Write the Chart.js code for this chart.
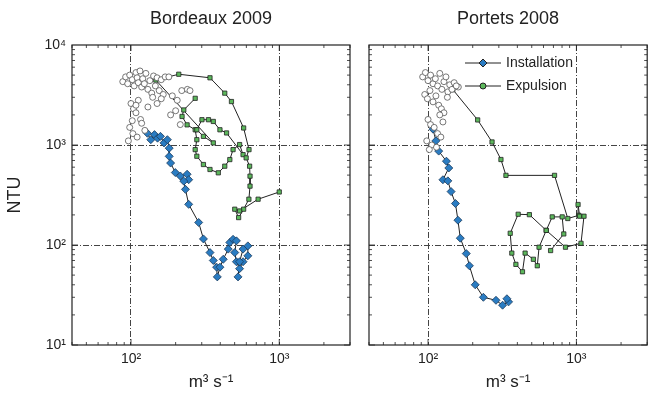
<!DOCTYPE html><html><head><script src="https://cdn.jsdelivr.net/npm/chart.js@4"></script>
<style>body{margin:0;background:#fff;width:652px;height:403px;position:relative;overflow:hidden}
#a{position:absolute;left:0;top:0;width:355px;height:403px}#b{position:absolute;left:355px;top:0;width:297px;height:403px}</style></head><body>
<div id="a"><canvas id="c1"></canvas></div><div id="b"><canvas id="c2"></canvas></div>
<script>
const panelTitles=["Bordeaux 2009","Portets 2008"];
const seriesNames=["Installation","Expulsion"];
const xTicks=[100,1000];
const yTicks=[10,100,1000,10000];
// Bordeaux 2009
const bInstQ=[129,136,144,151,158,167,176,181,181,185,199,215,239,245,227,233,245,286,308,341,359,378,382,398,419,453,464,488,514,501,514,540,570,614,614,570,540,527];
const bInstN=[1310,1130,1270,1170,1220,1050,1130,930,770,660,530,490,510,450,435,360,255,168,115,84,70,60,48,60,72,91,106,114,110,84,68,58,68,78,98,91,68,48];
const bExpQ=[271,227,221,239,271,278,271,278,308,341,388,429,464,488,540,570,441,398,359,333,301,278,308,359,147,210,341,429,476,575,625,598,631,635,635,624,575,532,501,540,720,1000];
const bExpN=[2930,2240,1930,1590,1420,1130,899,772,638,569,527,614,715,899,1010,801,1320,1420,1720,1790,1790,1420,1220,1050,4460,5100,4700,3300,2720,1480,899,743,614,488,388,287,228,188,228,219,287,339];
const bOpenQ=[88,92,95,98,102,105,108,110,112,115,118,120,123,126,130,134,138,142,146,150,155,160,165,170,100,104,108,112,116,98,103,110,118,124,96,102,108,190,205,220,240,200,215,250,180,140,150,160,130,185];
const bOpenN=[4300,4800,4100,5000,4500,3900,5300,4700,4200,5500,3800,4600,4100,5200,3600,4400,3300,4900,3900,4700,3500,4500,3200,4800,2600,2300,2100,2800,1800,1500,1300,1200,1650,1400,1100,1750,2500,3100,2800,3500,3600,2200,1600,3500,4800,3000,2600,2900,2400,2000];
// Portets 2008
const pInstQ=[108,113,118,133,138,126,136,143,153,159,165,181,190,208,236,287,318,349,340];
const pInstN=[1440,1100,869,689,589,449,438,342,260,177,117,82,62,40,30,28,25,27,29];
const pExpQ=[147,216,270,310,335,712,875,1037,1026,1052,1125,1074,844,626,560,545,513,451,433,391,367,358,405,482,626,687,802,822,670];
const pExpN=[3580,1780,1072,716,497,497,184,198,254,194,194,104,95,140,95,62,72,83,54,64,83,131,203,201,140,191,191,129,88];
const pOpenQ=[92,96,100,104,108,112,116,120,124,128,132,136,140,150,160,95,99,103,108,113,118,123,128,100,104,110,116,122,98,106,114,120,126,102,145,155,135];
const pOpenN=[4800,5300,4400,5000,4100,4600,3900,5200,3600,4300,4800,3400,4000,4200,3800,3200,2900,3500,2700,3100,2500,2300,2100,1800,1600,1500,1300,1200,1100,1000,950,2000,1700,900,3600,3900,3000];

const tickTxt={10:"10¹",100:"10²",1000:"10³",10000:"10⁴"};
const F="'Liberation Sans', Arial, sans-serif";
function pts(q,n){return q.map((v,i)=>({x:v,y:n[i]}));}
function mk(c,title,inst,exp,open,left){
 const frame={id:'f',afterDraw(ch){const a=ch.chartArea,x=ch.ctx;x.save();x.strokeStyle='#222';x.lineWidth=1.2;x.strokeRect(a.left,a.top,a.right-a.left,a.bottom-a.top);
  x.lineWidth=0.8;const sx=ch.scales.x,sy=ch.scales.y;
  for(let d=10;d<=1000;d*=10)for(let m=1;m<10;m++){const v=d*m;if(v<sx.min||v>sx.max)continue;const px=sx.getPixelForValue(v);const L=m==1?6:3;x.beginPath();x.moveTo(px,a.bottom);x.lineTo(px,a.bottom-L);x.moveTo(px,a.top);x.lineTo(px,a.top+L);x.stroke();}
  for(let d=10;d<=1000;d*=10)for(let m=1;m<10;m++){const v=d*m;const py=sy.getPixelForValue(v);const L=m==1?6:3;x.beginPath();x.moveTo(a.left,py);x.lineTo(a.left+L,py);x.moveTo(a.right,py);x.lineTo(a.right-L,py);x.stroke();}
  x.fillStyle='#222';x.font='18px '+F;x.textAlign='center';x.fillText(title,(a.left+a.right)/2,24);
  if(!left){x.font='14px '+F;x.textAlign='left';x.textBaseline='middle';
   [[seriesNames[0],63,'diamond'],[seriesNames[1],86,'circle']].forEach(([t,y,s])=>{x.strokeStyle='#222';x.lineWidth=1;x.beginPath();x.moveTo(110,y);x.lineTo(146,y);x.stroke();
    x.fillStyle=s=='diamond'?'#2a7cc2':'#5cb85c';x.beginPath();if(s=='diamond'){x.moveTo(128,y-4);x.lineTo(132,y);x.lineTo(128,y+4);x.lineTo(124,y);x.closePath();}else x.arc(128,y,3,0,7);x.fill();x.stroke();
    x.fillStyle='#222';x.fillText(t,151,y);});}
  x.restore();}};
 const gridC=ctx=>(ctx.tick&&(ctx.tick.value===100||ctx.tick.value===1000))?'#444':'rgba(0,0,0,0)';
 new Chart(document.getElementById(c),{type:'scatter',plugins:[frame],
  data:{datasets:[
   {label:'open',data:pts(open[0],open[1]),showLine:false,pointStyle:'circle',pointRadius:3,backgroundColor:'#fff',borderColor:'#555',borderWidth:0.8},
   {label:seriesNames[1],data:pts(exp[0],exp[1]),showLine:true,borderColor:'#222',borderWidth:1,pointStyle:'rect',pointRadius:3,pointBackgroundColor:'#5cb85c',pointBorderColor:'#222',pointBorderWidth:0.8},
   {label:seriesNames[0],data:pts(inst[0],inst[1]),showLine:true,borderColor:'#222',borderWidth:1,pointStyle:'rectRot',pointRadius:4,pointBackgroundColor:'#2a7cc2',pointBorderColor:'#1a3a5a',pointBorderWidth:0.8}]},
  options:{responsive:true,maintainAspectRatio:false,animation:false,
   layout:{padding:left?{top:45,right:5,left:0,bottom:0}:{top:45,right:4,left:14,bottom:0}},
   plugins:{legend:{display:false},tooltip:{enabled:false}},
   scales:{
    x:{type:'logarithmic',min:40,max:3000,afterBuildTicks:s=>{s.ticks=xTicks.map(v=>({value:v}))},afterFit:s=>{s.height=58},
     grid:{color:gridC,drawTicks:false,lineWidth:1},border:{display:false,dash:[6,2,1,2]},
     ticks:{callback:v=>tickTxt[v]||'',color:'#222',font:{size:14,family:F},padding:6,maxRotation:0},
     title:{display:true,text:'m³ s⁻¹',color:'#222',font:{size:17,family:F},padding:{top:0,bottom:10}}},
    y:{type:'logarithmic',min:10,max:10000,afterBuildTicks:s=>{s.ticks=yTicks.map(v=>({value:v}))},afterFit:s=>{s.width=left?72:0},
     grid:{color:gridC,drawTicks:false,lineWidth:1},border:{display:false,dash:[6,2,1,2]},
     ticks:{display:left,callback:v=>tickTxt[v]||'',color:'#222',font:{size:14,family:F},padding:6},
     title:{display:left,text:'NTU',color:'#222',font:{size:18,family:F}}}}}});
}
mk('c1',panelTitles[0],[bInstQ,bInstN],[bExpQ,bExpN],[bOpenQ,bOpenN],true);
mk('c2',panelTitles[1],[pInstQ,pInstN],[pExpQ,pExpN],[pOpenQ,pOpenN],false);
</script></body></html>
